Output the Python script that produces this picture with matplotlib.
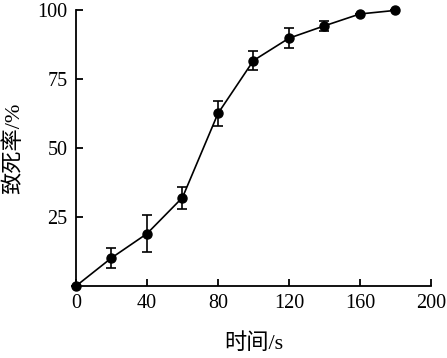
import matplotlib
matplotlib.use("Agg")
import matplotlib.pyplot as plt

time_s = [0, 20, 40, 60, 80, 100, 120, 140, 160, 180]
mortality = [0, 10.2, 19.0, 32.1, 62.6, 81.8, 89.9, 94.4, 98.7, 100]
err = [0, 3.7, 6.7, 4.0, 4.4, 3.4, 3.6, 1.9, 0, 0]
xticks = [0, 40, 80, 120, 160, 200]
yticks = [25, 50, 75, 100]

fam = ['Liberation Serif', 'Noto Sans CJK SC']
plt.rcParams['font.family'] = fam

fig = plt.figure(figsize=(4.47, 3.58), dpi=100)
ax = fig.add_axes([0.170, 0.201, 0.794, 0.770])
ax.errorbar(time_s, mortality, yerr=err, color='black', marker='o', markersize=6.5,
            linewidth=1.2, elinewidth=1.2, capsize=3.5, capthick=1.2, clip_on=False, zorder=3)
ax.set_xlim(0, 200)
ax.set_ylim(0, 100)
ax.set_xticks(xticks)
ax.set_yticks(yticks)
ax.spines['top'].set_visible(False)
ax.spines['right'].set_visible(False)
for s in ['left', 'bottom']:
    ax.spines[s].set_linewidth(1.3)
ax.tick_params(direction='in', length=5, width=1.3, labelsize=14.5, pad=6)
ax.set_xlabel('时间/s', fontsize=16, family=fam, weight='light')
ax.set_ylabel('致死率/%', fontsize=16, family=fam, weight='light')
ax.xaxis.set_label_coords(0.5, -0.17)
ax.yaxis.set_label_coords(-0.145, 0.50)
fig.savefig('out.png', dpi=100)
